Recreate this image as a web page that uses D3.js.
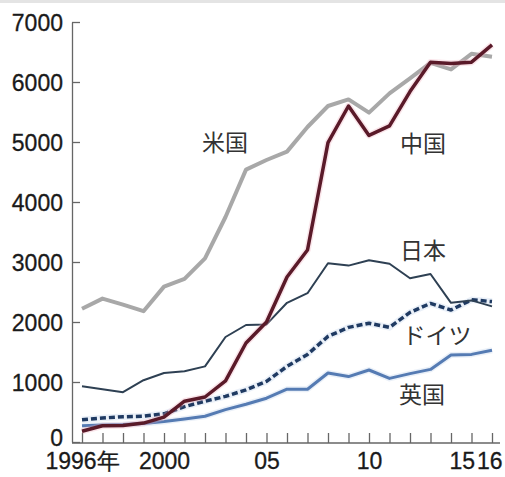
<!DOCTYPE html>
<html>
<head>
<meta charset="utf-8">
<script src="https://cdn.jsdelivr.net/npm/d3@7"></script>
<style>
  html, body { margin: 0; padding: 0; background: #fff; }
  svg { display: block; }
</style>
</head>
<body>
<svg id="chart" width="505" height="477"></svg>
<script>
// Years on the horizontal axis
const years = d3.range(1996, 2017);

// Yearly values per country
const usValues      = [2220, 2390, 2290, 2180, 2590, 2720, 3060, 3750, 4540, 4700, 4840, 5250, 5600, 5710, 5490, 5810, 6060, 6320, 6210, 6470, 6420];
const chinaValues   = [180, 270, 275, 315, 415, 680, 750, 1020, 1650, 2000, 2750, 3200, 4990, 5600, 5110, 5270, 5840, 6330, 6310, 6330, 6620];
const japanValues   = [930, 880, 830, 1030, 1150, 1180, 1260, 1750, 1950, 1960, 2320, 2480, 2980, 2940, 3030, 2970, 2730, 2800, 2320, 2360, 2260];
const germanyValues = [370, 400, 420, 430, 470, 590, 680, 760, 870, 1010, 1260, 1460, 1760, 1910, 1980, 1910, 2160, 2310, 2200, 2370, 2340];
const ukValues      = [270, 285, 290, 310, 340, 385, 430, 540, 630, 730, 880, 880, 1150, 1090, 1200, 1060, 1140, 1210, 1450, 1460, 1530];

// Axis ticks and labels
const yTicks = [0, 1000, 2000, 3000, 4000, 5000, 6000, 7000];
const xTickLabels = { 1996: "1996年", 2000: "2000", 2005: "05", 2010: "10", 2015: "15", 2016: "16" };

// Country names placed beside their lines
const seriesNames = ["米国", "中国", "日本", "ドイツ", "英国"];

const svg = d3.select("#chart");
const axisX = 72, axisBottomY = 443, axisRight = 500;

const x = d3.scaleLinear().domain([1996, 2016]).range([82, 492]);
const y = d3.scaleLinear().domain([0, 7000]).range([442, 22]);

const numFont = "'Liberation Sans', Arial, sans-serif";
const cjkFont = "'Noto Sans CJK JP', 'Noto Sans CJK SC', sans-serif";

// faint strip along the top edge
svg.append("rect").attr("x", 0).attr("y", 0).attr("width", 505).attr("height", 3)
  .attr("fill", "#e4e4e4");

// Y axis
const yAxis = svg.append("g")
  .attr("transform", `translate(${axisX},0)`)
  .call(d3.axisLeft(y).tickValues(yTicks).tickSize(-8).tickSizeOuter(0).tickPadding(9).tickFormat(d3.format("d")));
yAxis.select(".domain").attr("stroke", "#666").attr("stroke-width", 1.3);
yAxis.selectAll(".tick line").attr("stroke", "#666").attr("stroke-width", 1.3);
yAxis.selectAll(".tick text")
  .attr("font-family", numFont).attr("font-size", 23).attr("fill", "#1a1a1a")
  .attr("stroke", "#1a1a1a").attr("stroke-width", 0.3)
  .attr("dy", "0.36em");
// the zero label rides a little above the baseline
yAxis.selectAll(".tick").filter(d => d === 0).select("text").attr("y", -5);

// X axis
const xAxis = svg.append("g")
  .attr("transform", `translate(0,${axisBottomY})`)
  .call(d3.axisBottom(x).tickValues(years).tickSize(-10).tickPadding(10)
    .tickFormat(d => xTickLabels[d] || ""));
xAxis.select(".domain").remove();
xAxis.append("line")
  .attr("x1", axisX).attr("x2", axisRight).attr("y1", 0).attr("y2", 0)
  .attr("stroke", "#666").attr("stroke-width", 1.3);
xAxis.selectAll(".tick line").attr("stroke", "#666").attr("stroke-width", 1.3);
xAxis.selectAll(".tick text")
  .attr("font-family", numFont).attr("font-size", 23).attr("fill", "#1a1a1a")
  .attr("stroke", "#1a1a1a").attr("stroke-width", 0.3)
  .attr("dy", "0.71em");
// "15" and "16" sit side by side
xAxis.selectAll(".tick").filter(d => d === 2015).select("text")
  .attr("text-anchor", "end").attr("dx", 3);
xAxis.selectAll(".tick").filter(d => d === 2016).select("text")
  .attr("text-anchor", "end").attr("dx", 10);

const line = d3.line().x((d, i) => x(years[i])).y(d => y(d));

function drawSeries(values, opts) {
  if (opts.halo) {
    svg.append("path").datum(values)
      .attr("d", line).attr("fill", "none")
      .attr("stroke", opts.halo).attr("stroke-width", opts.width + 3)
      .attr("stroke-opacity", 0.3).attr("stroke-linejoin", "round");
  }
  svg.append("path").datum(values)
    .attr("d", line).attr("fill", "none")
    .attr("stroke", opts.color).attr("stroke-width", opts.width)
    .attr("stroke-linejoin", "round")
    .attr("stroke-dasharray", opts.dash || null);
}

drawSeries(ukValues,      { color: "#557bb3", width: 3, halo: "#b9cde8" });
drawSeries(germanyValues, { color: "#1f3a62", width: 3.5, dash: "6,3", halo: "#b9cde8" });
drawSeries(japanValues,   { color: "#2e4053", width: 2 });
drawSeries(usValues,      { color: "#a8a8a8", width: 4 });
drawSeries(chinaValues,   { color: "#5a1a29", width: 3.5, halo: "#f0a9b8" });

// Country labels
const labelPos = [
  { x: 225, y: 143 },
  { x: 423, y: 144 },
  { x: 423, y: 251 },
  { x: 437, y: 336 },
  { x: 422, y: 395 }
];
svg.append("g").selectAll("text")
  .data(seriesNames)
  .join("text")
  .attr("x", (d, i) => labelPos[i].x)
  .attr("y", (d, i) => labelPos[i].y)
  .attr("dy", "0.36em")
  .attr("text-anchor", "middle")
  .attr("font-family", cjkFont)
  .attr("font-size", 23)
  .attr("fill", "#333")
  .text(d => d);
</script>
</body>
</html>
